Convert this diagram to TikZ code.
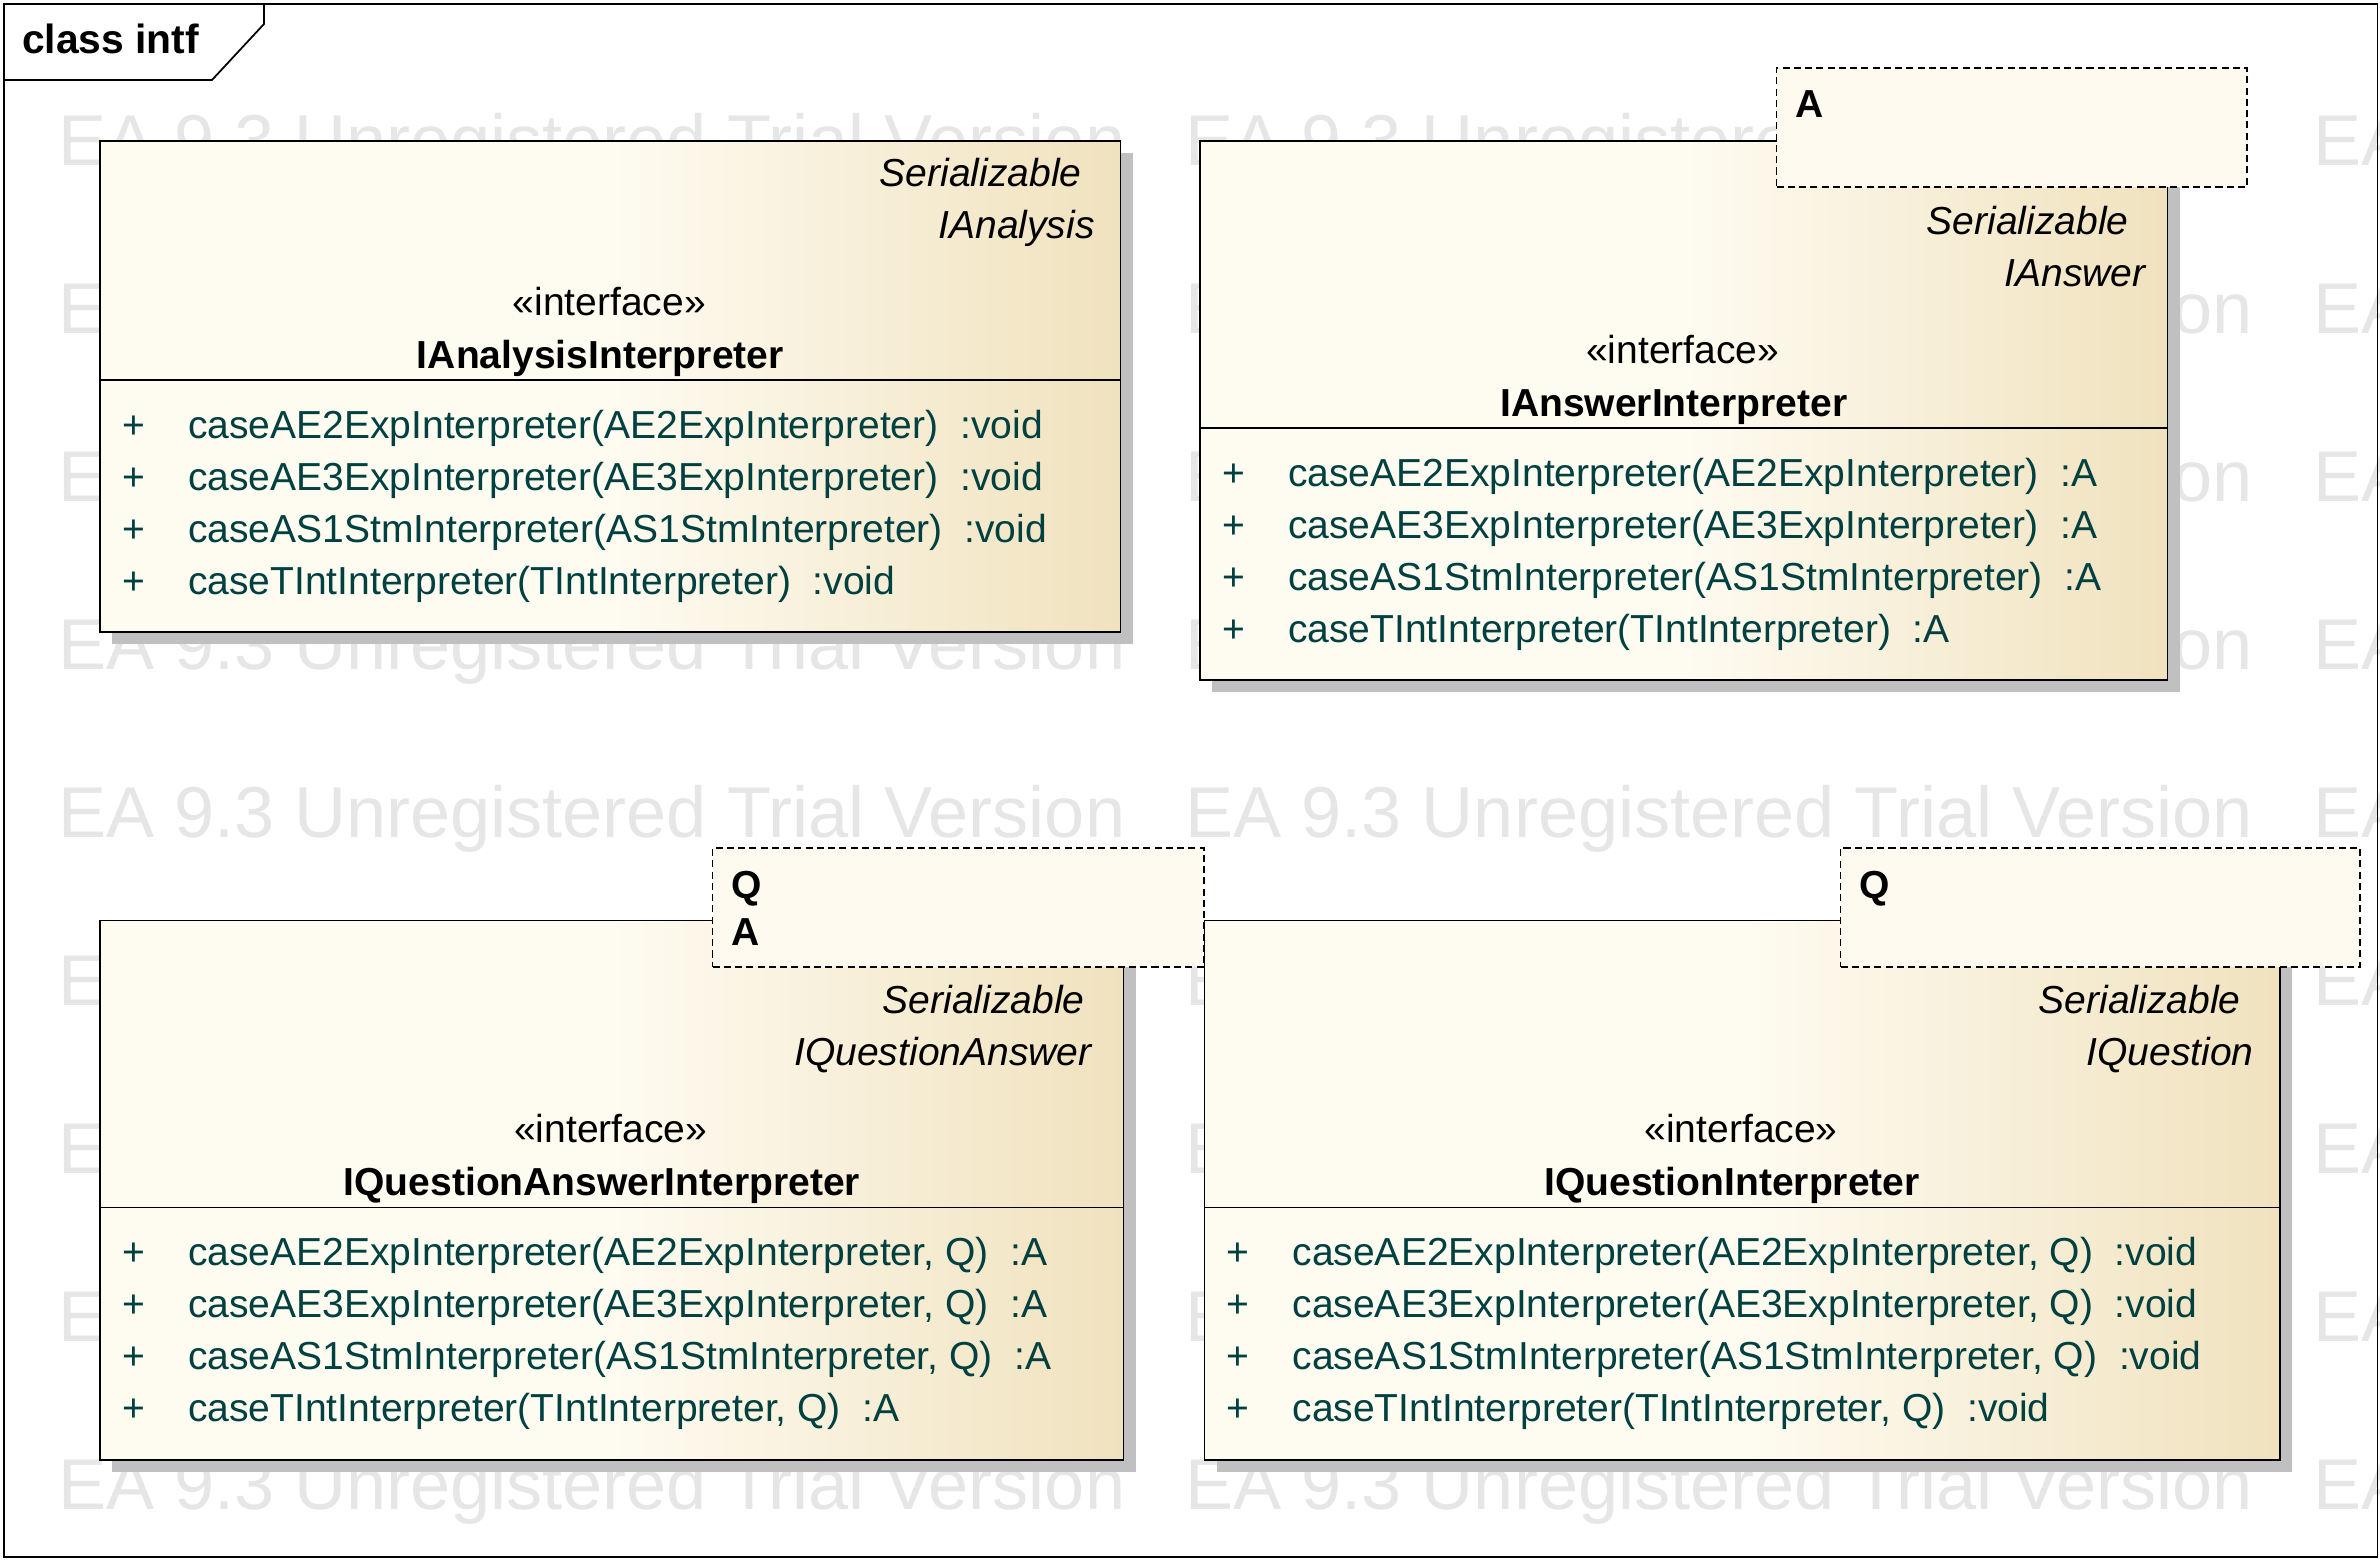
\documentclass[tikz,border=0pt]{standalone}
\usepackage{fontspec}
\setmainfont{Liberation Sans}
\usetikzlibrary{calc,shadows}
\definecolor{boxlight}{HTML}{FEFBF1}
\definecolor{boxdark}{HTML}{F0E2BE}
\definecolor{tmplfill}{HTML}{FEFAF0}
\definecolor{shadowgray}{HTML}{C0C0C0}
\definecolor{opteal}{HTML}{004040}
\definecolor{wmgray}{HTML}{E6E6E6}
\newcommand{\umlsize}{\fontsize{11.1pt}{13pt}\selectfont}

\begin{document}
\begin{tikzpicture}[x=0.01cm, y=-0.01cm,
  every node/.style={font=\umlsize, inner sep=0pt, outer sep=0pt},
  watermark/.style={font=\fontsize{20.5pt}{24pt}\selectfont, text=wmgray, anchor=base west},
  classbox/.style={draw=black, line width=0.5pt, anchor=north west,
                   left color=boxlight, right color=boxdark, middle color=boxlight,
                   drop shadow={shadow xshift=0.12cm, shadow yshift=-0.12cm,
                                fill=shadowgray, opacity=1}},
  tmplbox/.style={draw=black, line width=0.4pt, dash pattern=on 2pt off 1.2pt,
                  fill=tmplfill, anchor=north west},
  iface/.style={font=\umlsize\itshape, anchor=base east},
  stereo/.style={anchor=base},
  cname/.style={font=\umlsize\bfseries, anchor=base},
  tparam/.style={font=\umlsize\bfseries, anchor=base west},
  vis/.style={text=opteal, anchor=base west},
  oper/.style={text=opteal, anchor=base west},
  compart/.style={line width=0.5pt},
]
\useasboundingbox (0,0) rectangle (2380,1560);

% trial watermark
\foreach \r in {0,...,8}
  \foreach \c in {0,1,2}
    \node[watermark] (wm-\r-\c) at (58+1127.5*\c, 165+168*\r) {EA 9.3 Unregistered Trial Version};

% diagram frame
\node[draw, line width=0.5pt, minimum width=23.72cm, minimum height=15.52cm,
      anchor=north west] (frame) at (4,4) {};
\draw[line width=0.5pt, fill=white] (frame.north west) -- ++(260,0) -- ++(0,20)
  -- ++(-52,56) -- ++(-208,0) -- cycle;
\node[font=\fontsize{11.6pt}{14pt}\selectfont\bfseries, anchor=base west] (title)
  at (22,53) {class intf};

% IAnalysisInterpreter
\node[classbox, minimum width=10.20cm, minimum height=4.91cm] (ana) at (100,141) {};
\draw[compart] ($(ana.north west)+(0,239)$) -- ($(ana.north east)+(0,239)$);
\node[iface] (ana-s1) at ($(ana.north east)+(-39,45)$) {Serializable};
\node[iface] (ana-s2) at ($(ana.north east)+(-26,97)$) {IAnalysis};
\node[stereo] (ana-st) at ($(ana.north)+(-1,174)$) {«interface»};
\node[cname] (ana-n) at ($(ana.north)+(-10,227)$) {IAnalysisInterpreter};
\foreach \op [count=\i] in {{caseAE2ExpInterpreter(AE2ExpInterpreter)~~:void},
    {caseAE3ExpInterpreter(AE3ExpInterpreter)~~:void},
    {caseAS1StmInterpreter(AS1StmInterpreter)~~:void},
    {caseTIntInterpreter(TIntInterpreter)~~:void}} {
  \node[vis] (ana-v\i) at ($(ana.north west)+(22,245+52*\i)$) {+};
  \node[oper] (ana-o\i) at ($(ana.north west)+(88,245+52*\i)$) {\op};
}

% IAnswerInterpreter
\node[classbox, minimum width=9.67cm, minimum height=5.39cm] (ans) at (1200,141) {};
\draw[compart] ($(ans.north west)+(0,287)$) -- ($(ans.north east)+(0,287)$);
\node[iface] (ans-s1) at ($(ans.north east)+(-39,93)$) {Serializable};
\node[iface] (ans-s2) at ($(ans.north east)+(-22,145)$) {IAnswer};
\node[stereo] (ans-st) at ($(ans.north)+(-1,222)$) {«interface»};
\node[cname] (ans-n) at ($(ans.north)+(-10,275)$) {IAnswerInterpreter};
\foreach \op [count=\i] in {{caseAE2ExpInterpreter(AE2ExpInterpreter)~~:A},
    {caseAE3ExpInterpreter(AE3ExpInterpreter)~~:A},
    {caseAS1StmInterpreter(AS1StmInterpreter)~~:A},
    {caseTIntInterpreter(TIntInterpreter)~~:A}} {
  \node[vis] (ans-v\i) at ($(ans.north west)+(22,293+52*\i)$) {+};
  \node[oper] (ans-o\i) at ($(ans.north west)+(88,293+52*\i)$) {\op};
}
\node[tmplbox, minimum width=4.70cm, minimum height=1.19cm] (ans-t)
  at ($(ans.north east)+(-391,-73)$) {};
\node[tparam] (ans-ta) at ($(ans-t.north west)+(19,49)$) {A};

% IQuestionAnswerInterpreter
\node[classbox, minimum width=10.23cm, minimum height=5.395cm] (qan) at (100,920.5) {};
\draw[compart] ($(qan.north west)+(0,287)$) -- ($(qan.north east)+(0,287)$);
\node[iface] (qan-s1) at ($(qan.north east)+(-39,93)$) {Serializable};
\node[iface] (qan-s2) at ($(qan.north east)+(-32,145)$) {IQuestionAnswer};
\node[stereo] (qan-st) at ($(qan.north)+(-1,222)$) {«interface»};
\node[cname] (qan-n) at ($(qan.north)+(-10,275)$) {IQuestionAnswerInterpreter};
\foreach \op [count=\i] in {{caseAE2ExpInterpreter(AE2ExpInterpreter, Q)~~:A},
    {caseAE3ExpInterpreter(AE3ExpInterpreter, Q)~~:A},
    {caseAS1StmInterpreter(AS1StmInterpreter, Q)~~:A},
    {caseTIntInterpreter(TIntInterpreter, Q)~~:A}} {
  \node[vis] (qan-v\i) at ($(qan.north west)+(22,293+52*\i)$) {+};
  \node[oper] (qan-o\i) at ($(qan.north west)+(88,293+52*\i)$) {\op};
}
\node[tmplbox, minimum width=4.91cm, minimum height=1.19cm] (qan-t)
  at ($(qan.north east)+(-411,-72.5)$) {};
\node[tparam] (qan-tq) at ($(qan-t.north west)+(19,50)$) {Q};
\node[tparam] (qan-ta) at ($(qan-t.north west)+(19,97)$) {A};

% IQuestionInterpreter
\node[classbox, minimum width=10.745cm, minimum height=5.395cm] (que) at (1204.5,920.5) {};
\draw[compart] ($(que.north west)+(0,287)$) -- ($(que.north east)+(0,287)$);
\node[iface] (que-s1) at ($(que.north east)+(-39,93)$) {Serializable};
\node[iface] (que-s2) at ($(que.north east)+(-26,145)$) {IQuestion};
\node[stereo] (que-st) at ($(que.north)+(-1,222)$) {«interface»};
\node[cname] (que-n) at ($(que.north)+(-10,275)$) {IQuestionInterpreter};
\foreach \op [count=\i] in {{caseAE2ExpInterpreter(AE2ExpInterpreter, Q)~~:void},
    {caseAE3ExpInterpreter(AE3ExpInterpreter, Q)~~:void},
    {caseAS1StmInterpreter(AS1StmInterpreter, Q)~~:void},
    {caseTIntInterpreter(TIntInterpreter, Q)~~:void}} {
  \node[vis] (que-v\i) at ($(que.north west)+(22,293+52*\i)$) {+};
  \node[oper] (que-o\i) at ($(que.north west)+(88,293+52*\i)$) {\op};
}
\node[tmplbox, minimum width=5.19cm, minimum height=1.19cm] (que-t)
  at ($(que.north east)+(-439,-72.5)$) {};
\node[tparam] (que-tq) at ($(que-t.north west)+(19,50)$) {Q};

\end{tikzpicture}
\end{document}
